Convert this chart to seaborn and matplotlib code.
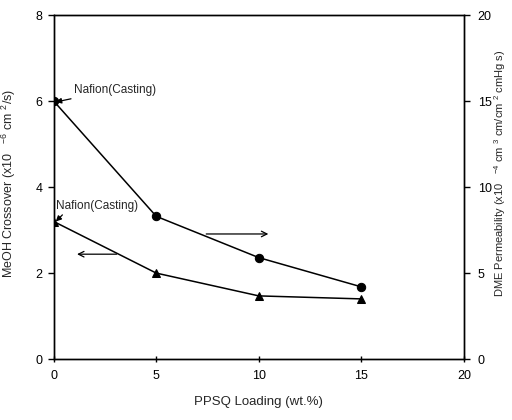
import numpy as np
import pandas as pd
import matplotlib
matplotlib.use("Agg")
import matplotlib.pyplot as plt
import seaborn as sns

# data
loading = [0, 5, 10, 15]
meoh_crossover = [3.2, 2.0, 1.47, 1.4]     # left axis, x10^-6 cm2/s (triangles)
dme_perm = [15.0, 8.3, 5.9, 4.2]           # right axis, x10^-4 (circles)

df = pd.DataFrame({"loading": loading, "meoh": meoh_crossover, "dme": dme_perm})

sns.set_style("ticks")
plt.rcParams['font.family'] = ['Liberation Sans', 'DejaVu Sans']
plt.rcParams['mathtext.fontset'] = 'custom'
plt.rcParams['mathtext.rm'] = 'Liberation Sans'
plt.rcParams['mathtext.it'] = 'Liberation Sans'

fig = plt.figure(figsize=(5.12, 4.2), dpi=100)
ax = fig.add_axes([0.105, 0.145, 0.801, 0.819])
ax2 = ax.twinx()

sns.lineplot(data=df, x="loading", y="meoh", ax=ax, color="black", lw=1.1,
             marker="^", markersize=6, markeredgecolor="black")
sns.lineplot(data=df, x="loading", y="dme", ax=ax2, color="black", lw=1.1,
             marker="o", markersize=6, markeredgecolor="black")

ax.set_xlim(0, 20)
ax.set_ylim(0, 8)
ax2.set_ylim(0, 20)
ax.set_xticks([0, 5, 10, 15, 20])
ax.set_yticks([0, 2, 4, 6, 8])
ax2.set_yticks([0, 5, 10, 15, 20])

for a in (ax, ax2):
    for s in a.spines.values():
        s.set_linewidth(1.0)
        s.set_color("black")
        s.set_visible(True)
    a.tick_params(labelsize=9, length=4, width=1, colors="black")
ax.tick_params(axis="x", direction="inout", pad=6)
ax.tick_params(axis="y", pad=4)
ax2.tick_params(axis="y", pad=6)

ax.set_xlabel("PPSQ Loading (wt.%)", fontsize=9.5, labelpad=10)
ax.set_ylabel(r"MeOH Crossover (x10   $^{-6}$ cm $^{2}$/s)", fontsize=9)
ax.yaxis.set_label_coords(-0.086, 0.51)
ax2.set_ylabel(r"DME Permeability (x10   $^{-4}$ cm $^{3}$ cm/cm $^{2}$ cmHg s)",
               fontsize=8, rotation=90)
ax2.yaxis.set_label_coords(1.07, 0.54)

# annotations
ax.annotate("Nafion(Casting)", xy=(0.1, 5.98), xytext=(1.0, 6.2), fontsize=8.5,
            arrowprops=dict(arrowstyle="-|>", color="black", lw=0.9,
                            mutation_scale=8, shrinkA=0, shrinkB=0))
ax.annotate("Nafion(Casting)", xy=(0.1, 3.2), xytext=(0.1, 3.5), fontsize=8.5,
            arrowprops=dict(arrowstyle="-|>", color="black", lw=0.9,
                            mutation_scale=8, shrinkA=0, shrinkB=0,
                            relpos=(0.12, 0.0)))
ax.annotate("", xy=(10.6, 2.91), xytext=(7.3, 2.91),
            arrowprops=dict(arrowstyle="->", color="black", lw=0.9))
ax.annotate("", xy=(1.0, 2.44), xytext=(3.2, 2.44),
            arrowprops=dict(arrowstyle="->", color="black", lw=0.9))

fig.savefig("out.png", dpi=100)
